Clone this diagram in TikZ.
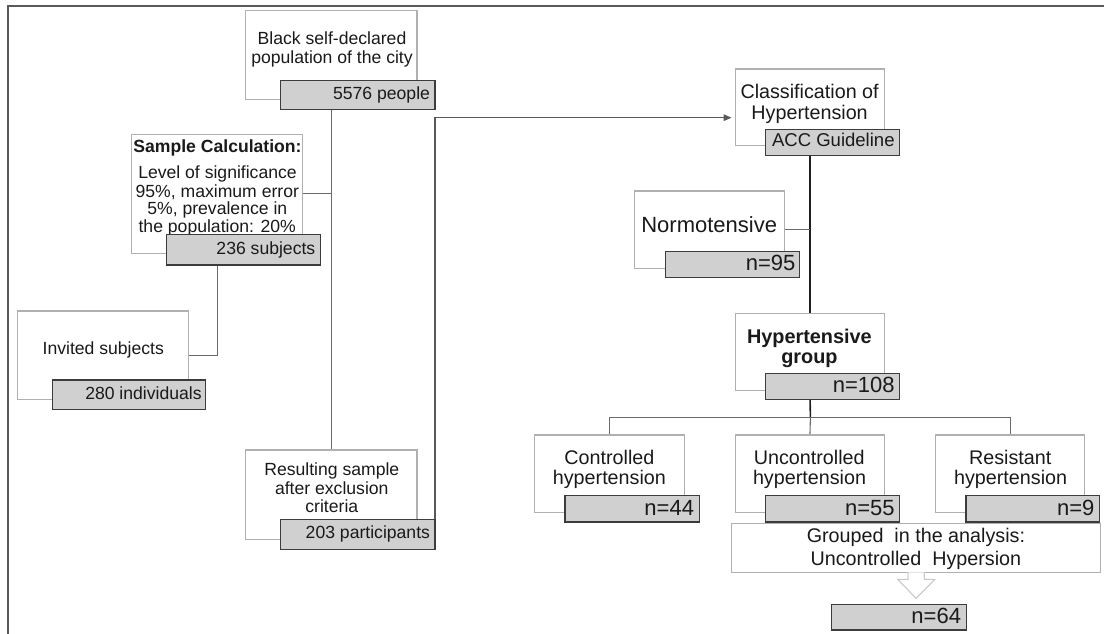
\documentclass[tikz,border=0pt]{standalone}
\usepackage{fontspec}
\setmainfont{Liberation Sans}
\usetikzlibrary{arrows.meta,calc}
\pgfdeclarelayer{bg}
\pgfsetlayers{bg,main}
\definecolor{txtc}{HTML}{1A1A1A}
\definecolor{wline}{HTML}{B0B0B0}
\definecolor{gfill}{HTML}{D0D0D0}
\definecolor{gline}{HTML}{3C3C3C}
\definecolor{cline}{HTML}{6A6A6A}
\definecolor{fline}{HTML}{5A5A5A}
\newcommand\bx[6]{\node[#6, minimum width={(#4-#2)*0.75pt}, minimum height={(#5-#3)*0.75pt}] (#1) at ({(#2+#4)/2},{(#3+#5)/2}) {};}
\newcommand\tl[5]{\node[txt,#4] (#1) at (#2,#3) {#5};}
\tikzset{
  wbox/.style={draw=wline, line width=0.8pt, fill=white, inner sep=0pt, outer sep=0pt},
  gbox/.style={draw=gline, line width=1pt, fill=gfill, inner sep=0pt, outer sep=0pt},
  conn/.style={draw=cline, line width=0.8pt},
  darkconn/.style={draw=black!88, line width=1.2pt},
  framel/.style={draw=fline, line width=1.5pt},
  txt/.style={inner sep=0pt, outer sep=0pt, text=txtc},
  tcen/.style={anchor=base},
  trig/.style={anchor=base east},
  fs/.style={font=\fontsize{13.2}{15}\selectfont},
  fsb/.style={font=\fontsize{13.2}{15}\selectfont\bfseries},
  fm/.style={font=\fontsize{14.8}{17}\selectfont},
  fmb/.style={font=\fontsize{14.9}{17}\selectfont\bfseries},
  facc/.style={font=\fontsize{13.9}{16}\selectfont},
  fn/.style={font=\fontsize{16.5}{19}\selectfont},
  blockarrow/.style={draw=black!22, line width=0.8pt, fill=white},
}
\begin{document}
\begin{tikzpicture}[x=0.75pt,y=-0.75pt]
\useasboundingbox (0,0) rectangle (1104,634);
% white boxes
\bx{blkw}{245.7}{10.3}{417}{99.3}{wbox}
\bx{samw}{131.7}{134.3}{302.7}{253.3}{wbox}
\bx{invw}{17.3}{311}{188.7}{399.3}{wbox}
\bx{resw}{245.7}{450}{417}{539.3}{wbox}
\bx{clw}{735.3}{69}{884.6}{145.7}{wbox}
\bx{norw}{634.8}{191}{784.5}{268.3}{wbox}
\bx{hyw}{735.3}{313.3}{884.6}{390.7}{wbox}
\bx{cow}{534.7}{435}{684.4}{512.3}{wbox}
\bx{unw}{735.3}{435}{884.6}{512.3}{wbox}
\bx{rsw}{935.5}{435}{1084.8}{512.3}{wbox}
% white box texts
\tl{t1a}{332}{44.3}{fs,tcen}{Black self-declared}
\tl{t1b}{332}{64}{fs,tcen}{population of the city}
\tl{t2a}{217.5}{152.7}{fsb,tcen}{Sample Calculation:}
\tl{t2b}{217.5}{178.3}{fs,tcen}{Level of significance}
\tl{t2c}{217.3}{197.7}{fs,tcen}{95\%, maximum error}
\tl{t2d}{217.3}{215}{fs,tcen}{5\%, prevalence in}
\tl{t2e}{217.2}{232.7}{fs,tcen}{the population: 20\%}
\tl{t3a}{103.3}{354.3}{fs,tcen}{Invited subjects}
\tl{t4a}{331.8}{475.7}{fs,tcen}{Resulting sample}
\tl{t4b}{331.8}{494.3}{fs,tcen}{after exclusion}
\tl{t4c}{331.8}{512.3}{fs,tcen}{criteria}
\tl{t5a}{809.6}{99}{fm,tcen}{Classification of}
\tl{t5b}{809.6}{120}{fm,tcen}{Hypertension}
\tl{t6a}{709.2}{232.3}{fn,tcen}{Normotensive}
\tl{t7a}{809.4}{343.3}{fmb,tcen}{Hypertensive}
\tl{t7b}{809.4}{363.3}{fmb,tcen}{group}
\tl{t8a}{609.4}{465}{fm,tcen}{Controlled}
\tl{t8b}{609.4}{485}{fm,tcen}{hypertension}
\tl{t9a}{809.2}{465}{fm,tcen}{Uncontrolled}
\tl{t9b}{809.5}{485}{fm,tcen}{hypertension}
\tl{t10a}{1010.2}{465}{fm,tcen}{Resistant}
\tl{t10b}{1010.6}{485}{fm,tcen}{hypertension}
% grey boxes
\bx{blkg}{280.7}{80.3}{435}{109.3}{gbox}
\bx{samg}{166.7}{234.3}{320.7}{265}{gbox}
\bx{invg}{52.3}{380}{205.7}{409.3}{gbox}
\bx{resg}{280.7}{519.3}{435}{549.3}{gbox}
\bx{clg}{765.3}{129.3}{899.6}{155.3}{gbox}
\bx{norg}{665.2}{251.3}{799.5}{277.3}{gbox}
\bx{hyg}{765.3}{373.3}{899.6}{399.3}{gbox}
\bx{cog}{565.1}{495.7}{699.4}{522}{gbox}
\bx{ung}{765.3}{495.7}{899.6}{522}{gbox}
\bx{rsg}{965.9}{495.7}{1099.4}{522}{gbox}
\bx{grw}{731.5}{523.3}{1100.7}{572.3}{wbox}
\bx{n64}{831.2}{604.3}{966.4}{630}{gbox}
% grey box texts
\tl{g1}{430}{100}{fs,trig}{5576 people}
\tl{g2}{315.3}{254.3}{fs,trig}{236 subjects}
\tl{g3}{201.7}{400}{fs,trig}{280 individuals}
\tl{g4}{430}{538.7}{fs,trig}{203 participants}
\tl{g5}{894.6}{147}{facc,trig}{ACC Guideline}
\tl{g6}{795.4}{270.7}{fn,trig}{n=95}
\tl{g7}{894.6}{392.7}{fn,trig}{n=108}
\tl{g8}{694}{515.7}{fn,trig}{n=44}
\tl{g9}{894.6}{515.7}{fn,trig}{n=55}
\tl{g10}{1094.4}{515.7}{fn,trig}{n=9}
\tl{g11a}{915.9}{542.7}{fm,tcen}{Grouped\ \ in the analysis:}
\tl{g11b}{915.9}{565.7}{fm,tcen}{Uncontrolled\ \ Hypersion}
\tl{g12}{961}{623.3}{fn,trig}{n=64}
% block arrow
\draw[blockarrow] ($(grw.south)+(-8,0)$) -- ++(0,7) -- ++(-10.5,0) -- ($(grw.south)+(0,26)$) -- ($(grw.south)+(18.8,7)$) -- ++(-10.5,0) -- ($(grw.south)+(8,0)$);
\coordinate (arrend) at (731.5,117.7);
\coordinate (bus) at (810.4,417.3);
\begin{pgfonlayer}{bg}
\draw[framel] (8,634) -- (8,6) -- (1104,6);
\draw[conn] (blkw.south) -- (resw.north);
\draw[conn] (samw.east) -- (samw.east -| blkw.south);
\draw[conn] (samw.south) |- (invw.east);
\draw[conn, draw=black!65, -{Triangle[length=6pt,width=5pt]}] (resg.north east) |- (arrend);
\draw[darkconn] (clw.south) -- (hyw.north);
\draw[conn] (norw.east) -- (norw.east -| clw.south);
\draw[darkconn] (hyw.south) -- (bus);
\draw[conn] (cow.north) |- (bus);
\draw[conn] (rsw.north) |- (bus);
\draw[conn] (bus) -- (unw.north);
\end{pgfonlayer}
\end{tikzpicture}
\end{document}
